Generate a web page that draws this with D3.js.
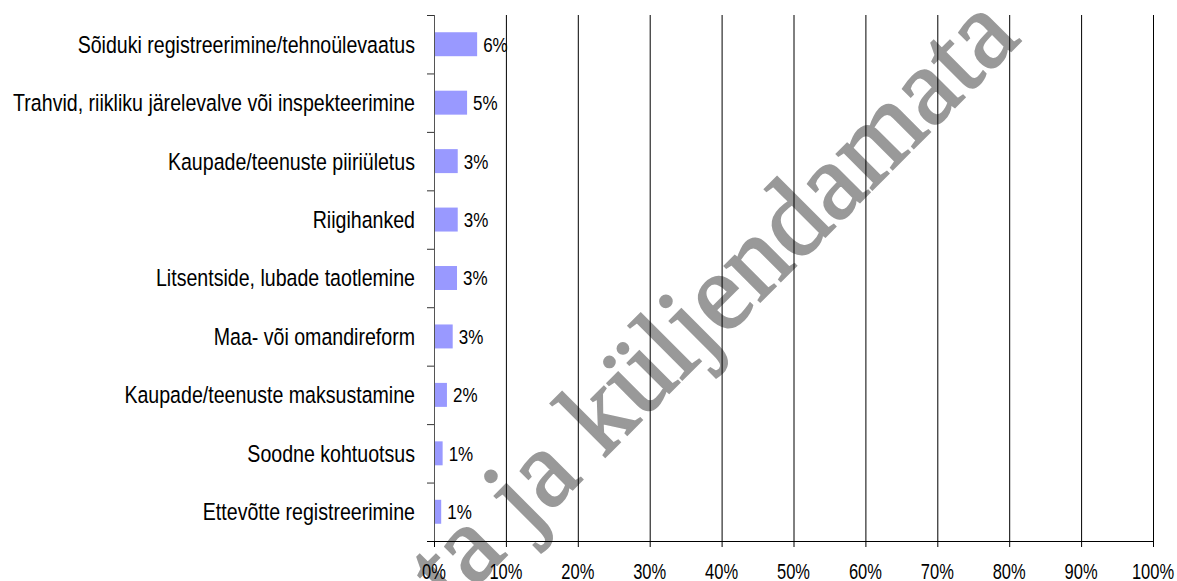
<!DOCTYPE html>
<html>
<head>
<meta charset="utf-8">
<script src="https://cdn.jsdelivr.net/npm/d3@7"></script>
<style>
  body { margin: 0; background: #fff; }
</style>
</head>
<body>
<svg id="chart" width="1177" height="581"></svg>
<script>
var categories = [
  "Sõiduki registreerimine/tehnoülevaatus",
  "Trahvid, riikliku järelevalve või inspekteerimine",
  "Kaupade/teenuste piiriületus",
  "Riigihanked",
  "Litsentside, lubade taotlemine",
  "Maa- või omandireform",
  "Kaupade/teenuste maksustamine",
  "Soodne kohtuotsus",
  "Ettevõtte registreerimine"
];
var values = [0.060, 0.046, 0.033, 0.033, 0.032, 0.026, 0.018, 0.012, 0.010];
var valueLabels = ["6%", "5%", "3%", "3%", "3%", "3%", "2%", "1%", "1%"];
var xTicks = [0, 0.1, 0.2, 0.3, 0.4, 0.5, 0.6, 0.7, 0.8, 0.9, 1];

var sans = "'Liberation Sans', Arial, sans-serif";
var serif = "'Liberation Serif', 'Times New Roman', 'DejaVu Serif', serif";

var svg = d3.select("#chart"),
    margin = {top: 15, left: 434, right: 24, bottom: 40},
    width = +svg.attr("width"),
    height = +svg.attr("height");

var x = d3.scaleLinear()
  .domain([0, 1])
  .range([margin.left, width - margin.right]);

var y = d3.scaleBand()
  .domain(categories)
  .range([margin.top, height - margin.bottom])
  .paddingInner(0.59)
  .paddingOuter(0.295);

// boundary positions for the category ticks
var yEdge = d3.scaleLinear()
  .domain([0, categories.length])
  .range([margin.top, height - margin.bottom]);

// text a bit taller than wide, like the original
function label(g, tx, ty, size, sy, anchor, str) {
  return g.append("text")
    .attr("transform", "translate(" + tx + "," + ty + ") scale(1," + sy + ")")
    .attr("text-anchor", anchor)
    .attr("font-family", sans)
    .attr("font-size", size + "px")
    .attr("fill", "#000")
    .text(str);
}

// watermark
svg.append("text")
  .attr("transform", "translate(1022,40) rotate(-45)")
  .attr("text-anchor", "end")
  .attr("font-family", serif)
  .attr("font-size", "110px")
  .attr("fill", "#999999")
  .attr("stroke", "#999999")
  .attr("stroke-width", 2)
  .text("Toimetamata ja küljendamata");

// grid
svg.append("g")
  .selectAll("line")
  .data(xTicks.slice(1))
  .enter()
  .append("line")
  .attr("x1", d => x(d) + 0.5)
  .attr("x2", d => x(d) + 0.5)
  .attr("y1", margin.top)
  .attr("y2", height - margin.bottom)
  .attr("stroke", "#000")
  .attr("stroke-width", 1);

// bars
svg.append("g")
  .selectAll("rect")
  .data(categories)
  .enter()
  .append("rect")
  .attr("x", x(0) + 1)
  .attr("y", d => y(d))
  .attr("width", (d, i) => x(values[i]) - x(0) - 1)
  .attr("height", y.bandwidth())
  .attr("fill", "#9999ff");

// value labels
var vals = svg.append("g");
categories.forEach((c, i) => {
  var cy = y(c) + y.bandwidth() / 2;
  label(vals, x(values[i]) + 6, cy + 0.716 * 17 * 1.22 / 2, 17, 1.22, "start", valueLabels[i]);
});

// y axis
var yAxis = svg.append("g");
yAxis.append("line")
  .attr("x1", x(0) + 0.5)
  .attr("x2", x(0) + 0.5)
  .attr("y1", margin.top)
  .attr("y2", height - margin.bottom)
  .attr("stroke", "#555");
yAxis.selectAll("line.tick")
  .data(d3.range(categories.length))
  .enter()
  .append("line")
  .attr("class", "tick")
  .attr("x1", x(0) - 7)
  .attr("x2", x(0))
  .attr("y1", d => yEdge(d) + 0.5)
  .attr("y2", d => yEdge(d) + 0.5)
  .attr("stroke", "#333");

var cats = svg.append("g");
categories.forEach(c => {
  var cy = y(c) + y.bandwidth() / 2;
  label(cats, x(0) - 19, cy + 0.716 * 19.6 * 1.2 / 2, 19.6, 1.2, "end", c);
});

// x axis
var xAxis = svg.append("g")
  .attr("transform", "translate(0," + (height - margin.bottom) + ")")
  .call(d3.axisBottom(x).tickValues(xTicks).tickFormat("").tickSize(6).tickSizeOuter(0));
xAxis.select(".domain")
  .attr("d", "M" + (x(0) - 7) + ",0.5H" + (x(1) + 0.5));
xAxis.selectAll("line").attr("stroke", "#000");

var fmt = d3.format(".0%");
var ticks = svg.append("g");
xTicks.forEach(t => {
  label(ticks, x(t), 579, 16.5, 1.3, "middle", fmt(t));
});
</script>
</body>
</html>
